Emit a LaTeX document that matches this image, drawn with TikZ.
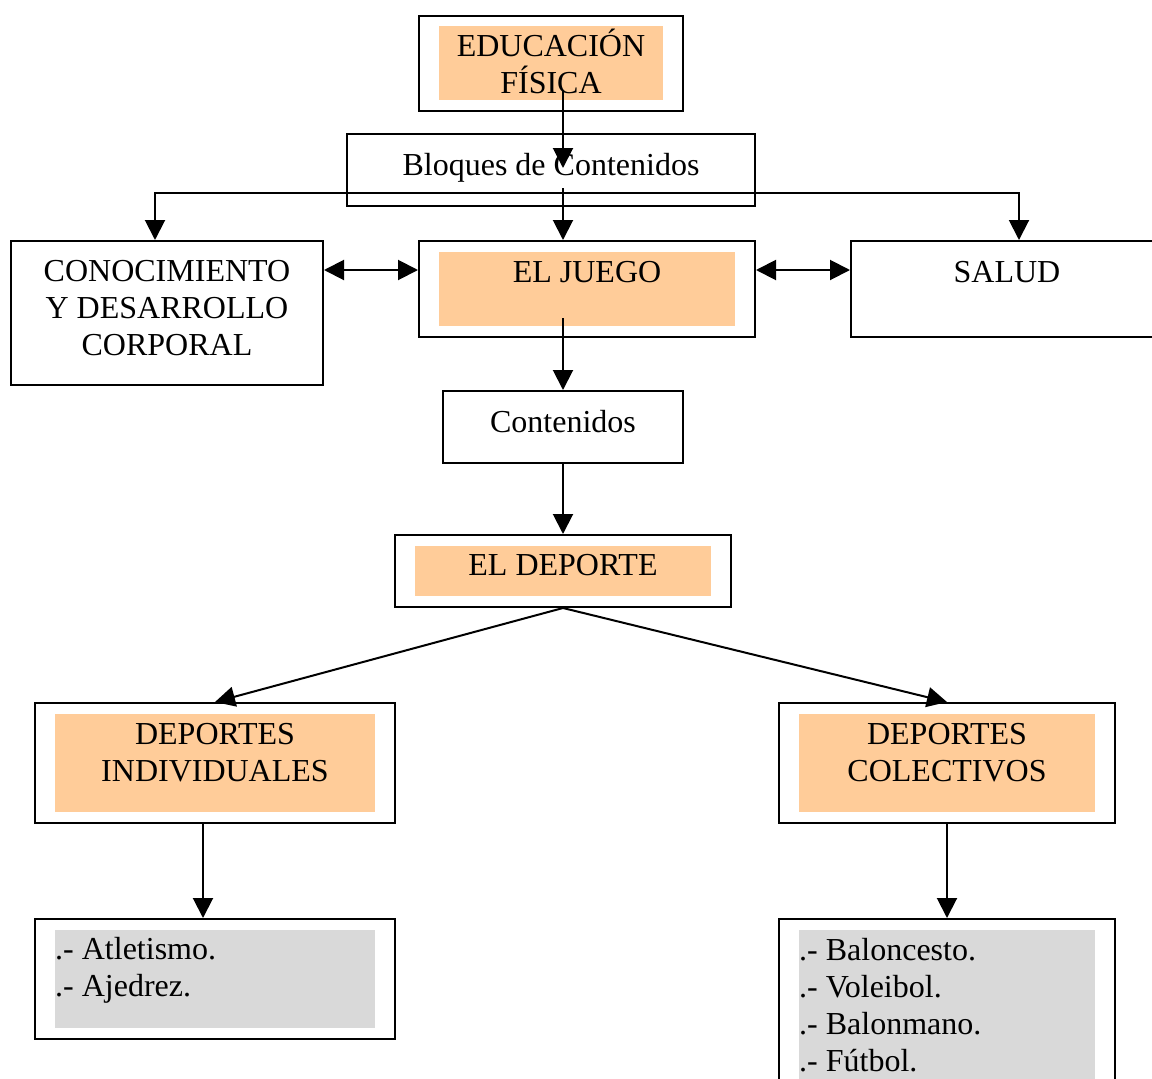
\documentclass[tikz,border=0pt]{standalone}
\usepackage{fontspec}
\setmainfont{Liberation Serif}
\usetikzlibrary{arrows.meta}
\definecolor{naranja}{RGB}{255,204,153}
\definecolor{gris}{RGB}{217,217,217}
\tikzset{
  caja/.style={draw, line width=2pt, inner sep=0pt},
  fondo/.style={inner sep=0pt},
  texto/.style={font=\fontsize{32}{37}\selectfont, inner sep=0pt, align=center, anchor=base},
  lista/.style={font=\fontsize{32}{37}\selectfont, inner sep=0pt, align=left, anchor=base west},
  flecha/.style={line width=2pt, -{Triangle[length=20pt,width=20pt]}},
  doble/.style={line width=2pt, {Triangle[length=20pt,width=20pt]}-{Triangle[length=20pt,width=20pt]}},
}
\begin{document}
\begin{tikzpicture}[x=1pt,y=-1pt]
\useasboundingbox (0,0) rectangle (1152,1079);
% fondos de color
\node[fondo, fill=naranja, minimum width=224, minimum height=74] (edufondo) at (551,63) {};
\node[fondo, fill=naranja, minimum width=296, minimum height=74] (juegofondo) at (587,289) {};
\node[fondo, fill=naranja, minimum width=296, minimum height=50] (depfondo) at (563,571) {};
\node[fondo, fill=naranja, minimum width=320, minimum height=98] (difondo) at (215,763) {};
\node[fondo, fill=naranja, minimum width=296, minimum height=98] (dcfondo) at (947,763) {};
\node[fondo, fill=gris, minimum width=320, minimum height=98] (lisifondo) at (215,979) {};
\node[fondo, fill=gris, minimum width=296, minimum height=160] (liscfondo) at (947,1010) {};
% cajas
\node[caja, minimum width=264, minimum height=95] (edu) at (551,63.5) {};
\node[caja, minimum width=408, minimum height=72] (bloq) at (551,170) {};
\node[caja, minimum width=312, minimum height=144] (con) at (167,313) {};
\node[caja, minimum width=336, minimum height=96] (juego) at (587,289) {};
\node[caja, minimum width=312, minimum height=96] (sal) at (1007,289) {};
\node[caja, minimum width=240, minimum height=72] (cont) at (563,427) {};
\node[caja, minimum width=336, minimum height=72] (dep) at (563,571) {};
\node[caja, minimum width=360, minimum height=120] (di) at (215,763) {};
\node[caja, minimum width=336, minimum height=120] (dc) at (947,763) {};
\node[caja, minimum width=360, minimum height=120] (lisi) at (215,979) {};
\node[caja, minimum width=336, minimum height=180] (lisc) at (947,1009) {};
% textos (base = ultima linea)
\node[texto] at (551,93) {EDUCACIÓN\\FÍSICA};
\node[texto] at (551,175) {Bloques de Contenidos};
\node[texto] at (167,355) {CONOCIMIENTO\\Y DESARROLLO\\CORPORAL};
\node[texto] at (587,282) {EL JUEGO};
\node[texto] at (1007,282) {SALUD};
\node[texto] at (563,432) {Contenidos};
\node[texto] at (563,575) {EL DEPORTE};
\node[texto] at (215,781) {DEPORTES\\INDIVIDUALES};
\node[texto] at (947,781) {DEPORTES\\COLECTIVOS};
\node[lista] at (55,996) {.- Atletismo.\\.- Ajedrez.};
\node[lista] at (799,1071) {.- Baloncesto.\\.- Voleibol.\\.- Balonmano.\\.- Fútbol.};
% conectores
\coordinate (e0) at (563,90);
\coordinate (b1) at (563,168);
\coordinate (b0) at (563,188);
\coordinate (rama) at (563,193);
\coordinate (j0) at (563,318);
\draw[flecha] (e0) -- (b1);
\draw[flecha] (b0) -- (b0 |- juego.north);
\draw[flecha] (rama) -| ([xshift=-12pt]con.north);
\draw[flecha] (rama) -| ([xshift=12pt]sal.north);
\draw[doble] ([yshift=-30pt]con.north east) -- ([yshift=-30pt]juego.north west);
\draw[doble] ([yshift=-30pt]juego.north east) -- ([yshift=-30pt]sal.north west);
\draw[flecha] (j0) -- (cont.north);
\draw[flecha] (cont.south) -- (dep.north);
\draw[flecha] (dep.south) -- (di.north);
\draw[flecha] (dep.south) -- (dc.north);
\draw[flecha] ([xshift=-12pt]di.south) -- ([xshift=-12pt]lisi.north);
\draw[flecha] (dc.south) -- (lisc.north);
\end{tikzpicture}
\end{document}
